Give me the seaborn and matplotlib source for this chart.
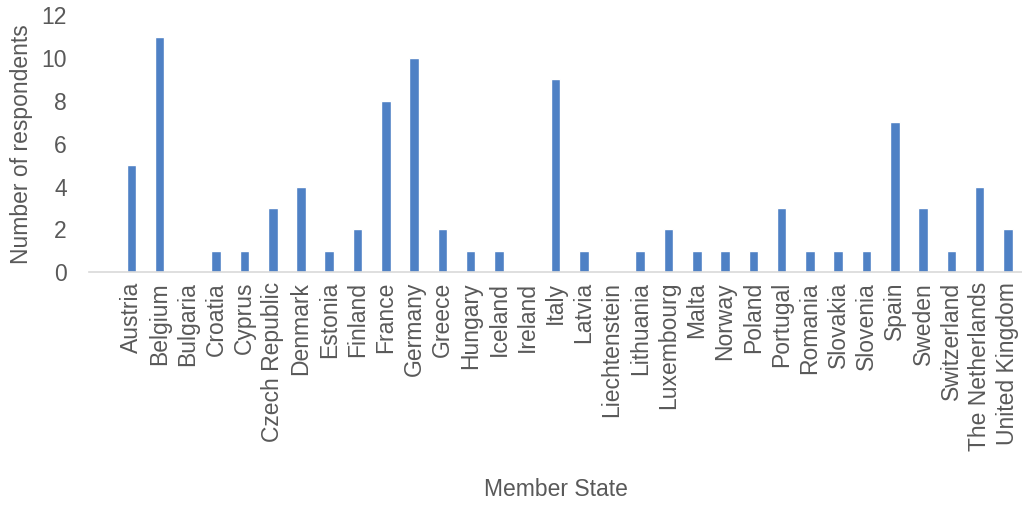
import matplotlib
matplotlib.use("Agg")
import matplotlib.pyplot as plt
import seaborn as sns
import pandas as pd

countries = ["Austria", "Belgium", "Bulgaria", "Croatia", "Cyprus", "Czech Republic",
             "Denmark", "Estonia", "Finland", "France", "Germany", "Greece", "Hungary",
             "Iceland", "Ireland", "Italy", "Latvia", "Liechtenstein", "Lithuania",
             "Luxembourg", "Malta", "Norway", "Poland", "Portugal", "Romania", "Slovakia",
             "Slovenia", "Spain", "Sweden", "Switzerland", "The Netherlands", "United Kingdom"]
respondents = [5, 11, 0, 1, 1, 3, 4, 1, 2, 8, 10, 2, 1, 1, 0, 9, 1, 0, 1, 2,
               1, 1, 1, 3, 1, 1, 1, 7, 3, 1, 4, 2]

df = pd.DataFrame({"Member State": countries, "Number of respondents": respondents})

sns.set_style("white")
plt.rcParams["font.family"] = ["Liberation Sans", "DejaVu Sans"]
grey = "#595959"
fs = 16.5

fig = plt.figure(figsize=(10.22, 5.05), dpi=100)
ax = fig.add_axes([0.087, 0.461, 0.913, 0.509])

sns.barplot(data=df, x="Member State", y="Number of respondents", color="#4F81C5",
            width=0.34, saturation=1, ax=ax)

ax.set_xlim(-1.5, 31.5)
ax.set_ylim(0, 12)
ax.set_yticks(range(0, 13, 2))
for s in ["top", "right", "left"]:
    ax.spines[s].set_visible(False)
ax.spines["bottom"].set_color("#D9D9D9")
ax.spines["bottom"].set_linewidth(1.2)
ax.tick_params(axis="both", length=0, labelsize=fs, colors=grey)
ax.tick_params(axis="x", pad=7)
ax.tick_params(axis="y", pad=16)
plt.setp(ax.get_xticklabels(), rotation=90)
ax.set_xlabel("Member State", fontsize=fs, color=grey, labelpad=19)
ax.set_ylabel("Number of respondents", fontsize=fs, color=grey, labelpad=6)

fig.savefig("out.png", dpi=100)
